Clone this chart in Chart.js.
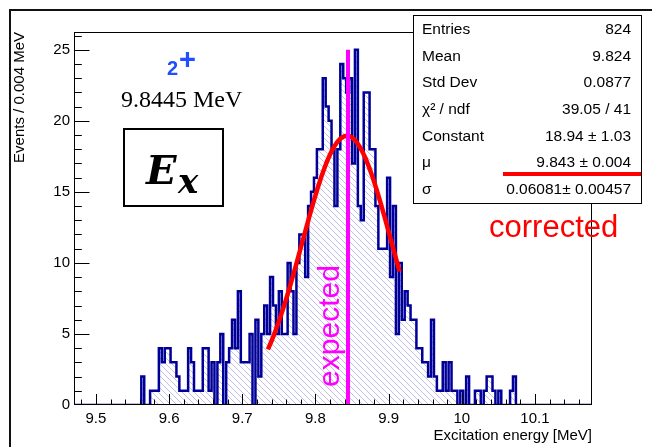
<!DOCTYPE html>
<html>
<head>
<meta charset="utf-8">
<style>
  html, body { margin: 0; padding: 0; background: #fff; overflow: hidden; }
  canvas { display: block; }
</style>
<script src="https://cdn.jsdelivr.net/npm/chart.js@4.4.0/dist/chart.umd.min.js"></script>
</head>
<body>
<canvas id="c" width="652" height="447"></canvas>
<script>
// Excitation-energy spectrum, 0.004 MeV bins starting at 9.562 MeV
const binStart = 9.562;
const binWidth = 0.004;
const counts = [
  2, 0, 0, 1, 1, 1, 4, 3, 4, 4,
  3, 3, 2, 1, 1, 1, 4, 3, 1, 1,
  1, 4, 4, 1, 3, 0, 3, 5, 0, 3,
  4, 6, 4, 8, 3, 3, 3, 5, 0, 6,
  2, 5, 7, 5, 9, 7, 5, 8, 5, 5,
  10, 8, 5, 10, 12, 12, 9, 14, 15, 16,
  18, 18, 23, 21, 20, 18, 14, 18, 24, 23,
  22, 23, 17, 25, 14, 13, 22, 22, 18, 18,
  14, 11, 11, 11, 16, 9, 14, 5, 10, 6,
  8, 7, 6, 6, 4, 4, 3, 3, 2, 6,
  2, 1, 1, 3, 1, 3, 1, 1, 0, 1,
  0, 2, 0, 0, 1, 1, 0, 1, 2, 2,
  1, 0, 1, 0, 0, 0, 1, 2, 0
];

// axis ranges and labelled ticks
const xRange = [9.47, 10.178];
const yRange = [0, 26.25];
const xTickValues = [9.5, 9.6, 9.7, 9.8, 9.9, 10.0, 10.1];
const yTickValues = [0, 5, 10, 15, 20, 25];

// Gaussian fit result
const fitConstant = 18.94;
const fitMean = 9.843;
const fitSigma = 0.06081;
const fitRange = [9.735, 9.915];

// expected level energy
const expectedEnergy = 9.8445;
const expectedLineTop = 25;

// statistics box
const statsLabels = ["Entries", "Mean", "Std Dev", "\u03c7\u00b2 / ndf", "Constant", "\u03bc", "\u03c3"];
const statsValues = ["824", "9.824", "0.0877", "39.05 / 41", "18.94 \u00b1 1.03", "9.843 \u00b1 0.004", "0.06081\u00b1 0.00457"];

Chart.defaults.font.family = '"Liberation Sans", Arial, sans-serif';
Chart.defaults.color = '#000';

// histogram outline: one step per bin, closed down to zero at both ends
const histPoints = [{ x: xRange[0], y: 0 }];
counts.forEach((c, i) => histPoints.push({ x: binStart + i * binWidth, y: c }));
histPoints.push({ x: binStart + counts.length * binWidth, y: 0 });
histPoints.push({ x: xRange[1], y: 0 });

// fitted Gaussian sampled across the fit range
const fitPoints = [];
const fitSamples = 120;
for (let i = 0; i <= fitSamples; i++) {
  const x = fitRange[0] + (fitRange[1] - fitRange[0]) * i / fitSamples;
  const z = (x - fitMean) / fitSigma;
  fitPoints.push({ x, y: fitConstant * Math.exp(-0.5 * z * z) });
}

// diagonal hatch used under the histogram
function makeHatch() {
  const s = 6;
  const p = document.createElement('canvas');
  p.width = s; p.height = s;
  const g = p.getContext('2d');
  g.strokeStyle = 'rgba(140,140,215,0.7)';
  g.lineWidth = 0.8;
  g.beginPath();
  g.moveTo(-1, -1); g.lineTo(s + 1, s + 1);
  g.moveTo(-1, s - 1); g.lineTo(1, s + 1);
  g.moveTo(s - 1, -1); g.lineTo(s + 1, 1);
  g.stroke();
  return document.getElementById('c').getContext('2d').createPattern(p, 'repeat');
}

const decorations = {
  id: 'decorations',
  beforeDraw(chart) {
    const ctx = chart.ctx;
    ctx.save();
    ctx.fillStyle = '#fff';
    ctx.fillRect(0, 0, chart.width, chart.height);
    // canvas border (top and left)
    ctx.fillStyle = '#111';
    ctx.fillRect(9, 9, chart.width, 2);
    ctx.fillRect(9, 9, 2, chart.height);
    ctx.restore();
  },
  afterDatasetsDraw(chart) {
    const ctx = chart.ctx;
    const a = chart.chartArea;
    const xs = chart.scales.x, ys = chart.scales.y;
    ctx.save();
    // "expected" label beside the vertical line
    ctx.translate(339, 326);
    ctx.rotate(-Math.PI / 2);
    ctx.font = '30px "Liberation Sans"';
    ctx.fillStyle = '#ff00ff';
    ctx.textAlign = 'center';
    ctx.textBaseline = 'alphabetic';
    ctx.fillText('expected', 0, 0);
    ctx.restore();

    ctx.save();
    // frame
    ctx.strokeStyle = '#000';
    ctx.lineWidth = 1;
    ctx.strokeRect(a.left + 0.5, a.top + 0.5, a.right - a.left - 1, a.bottom - a.top - 1);
    // inward ticks
    ctx.beginPath();
    for (let k = 0; ; k++) {
      const v = 9.48 + 0.02 * k;
      if (v > xRange[1]) break;
      const major = Math.abs(v * 10 - Math.round(v * 10)) < 1e-6;
      const px = Math.round(xs.getPixelForValue(v)) + 0.5;
      ctx.moveTo(px, a.bottom);
      ctx.lineTo(px, a.bottom - (major ? 11 : 5.5));
    }
    for (let v = 1; v <= 26; v++) {
      const major = v % 5 === 0;
      const py = Math.round(ys.getPixelForValue(v)) + 0.5;
      ctx.moveTo(a.left, py);
      ctx.lineTo(a.left + (major ? 15.5 : 7.8), py);
    }
    ctx.stroke();
    ctx.restore();
  },
  afterDraw(chart) {
    const ctx = chart.ctx;
    ctx.save();
    // spin-parity and energy
    ctx.fillStyle = '#1f4fff';
    ctx.font = 'bold 20px "Liberation Sans"';
    ctx.fillText('2', 167, 75);
    ctx.font = 'bold 29px "Liberation Sans"';
    ctx.fillText('+', 179, 69);
    ctx.fillStyle = '#000';
    ctx.font = '24px "Liberation Serif"';
    ctx.fillText('9.8445 MeV', 121, 107);

    // E_x box
    ctx.strokeStyle = '#000';
    ctx.lineWidth = 2;
    ctx.strokeRect(124, 129, 99, 77);
    ctx.font = 'bold italic 40px "DejaVu Serif"';
    ctx.fillText('E', 146, 184);
    ctx.font = 'bold italic 34px "DejaVu Serif"';
    ctx.fillText('x', 178, 193);

    // statistics box
    ctx.fillStyle = '#fff';
    ctx.fillRect(413, 15, 229, 189);
    ctx.lineWidth = 1;
    ctx.strokeStyle = '#000';
    ctx.strokeRect(413.5, 15.5, 228, 188);
    ctx.fillStyle = '#000';
    ctx.font = '15.5px "Liberation Sans"';
    ctx.textBaseline = 'middle';
    statsLabels.forEach((lab, i) => {
      const y = 30 + i * 26.6;
      ctx.textAlign = 'left';
      ctx.fillText(lab, 422, y);
      ctx.textAlign = 'right';
      ctx.fillText(statsValues[i], 631, y);
    });

    // underline of the fitted mean
    ctx.fillStyle = '#ff0000';
    ctx.fillRect(503, 172, 138, 4);

    ctx.textAlign = 'left';
    ctx.textBaseline = 'alphabetic';
    ctx.font = '31px "Liberation Sans"';
    ctx.fillText('corrected', 489, 237);
    ctx.restore();
  }
};

new Chart(document.getElementById('c'), {
  type: 'line',
  data: {
    datasets: [
      {
        label: 'histogram',
        data: histPoints,
        stepped: true,
        borderColor: '#000099',
        borderWidth: 2.5,
        backgroundColor: makeHatch(),
        fill: 'origin',
        pointRadius: 0,
        tension: 0,
        order: 3
      },
      {
        label: 'fit',
        data: fitPoints,
        borderColor: '#ff0000',
        borderWidth: 4.5,
        fill: false,
        pointRadius: 0,
        tension: 0,
        borderCapStyle: 'butt',
        order: 2
      },
      {
        label: 'expected',
        data: [{ x: expectedEnergy, y: 0 }, { x: expectedEnergy, y: expectedLineTop }],
        borderColor: '#ff00ff',
        borderWidth: 4,
        fill: false,
        pointRadius: 0,
        order: 1
      }
    ]
  },
  options: {
    responsive: false,
    animation: false,
    devicePixelRatio: 1,
    events: [],
    layout: { padding: { left: 0, top: 32, right: 60, bottom: 0 } },
    plugins: { legend: { display: false }, tooltip: { enabled: false } },
    scales: {
      x: {
        type: 'linear',
        min: xRange[0],
        max: xRange[1],
        grid: { display: false, drawTicks: false },
        border: { display: false },
        afterBuildTicks: s => { s.ticks = xTickValues.map(v => ({ value: v })); },
        afterFit: s => { s.height = 42; },
        ticks: {
          autoSkip: false,
          maxRotation: 0,
          padding: 5,
          font: { size: 15 },
          callback: v => String(Math.round(v * 10) / 10)
        },
        title: {
          display: true,
          text: 'Excitation energy [MeV]',
          align: 'end',
          font: { size: 15 },
          padding: { top: 0, bottom: 2 }
        }
      },
      y: {
        type: 'linear',
        min: yRange[0],
        max: yRange[1],
        grid: { display: false, drawTicks: false },
        border: { display: false },
        afterBuildTicks: s => { s.ticks = yTickValues.map(v => ({ value: v })); },
        afterFit: s => { s.width = 74; },
        ticks: { padding: 4, font: { size: 15 } },
        title: {
          display: true,
          text: 'Events / 0.004 MeV',
          align: 'end',
          font: { size: 15 },
          padding: { top: 11, bottom: 0 }
        }
      }
    }
  },
  plugins: [decorations]
});
</script>
</body>
</html>
